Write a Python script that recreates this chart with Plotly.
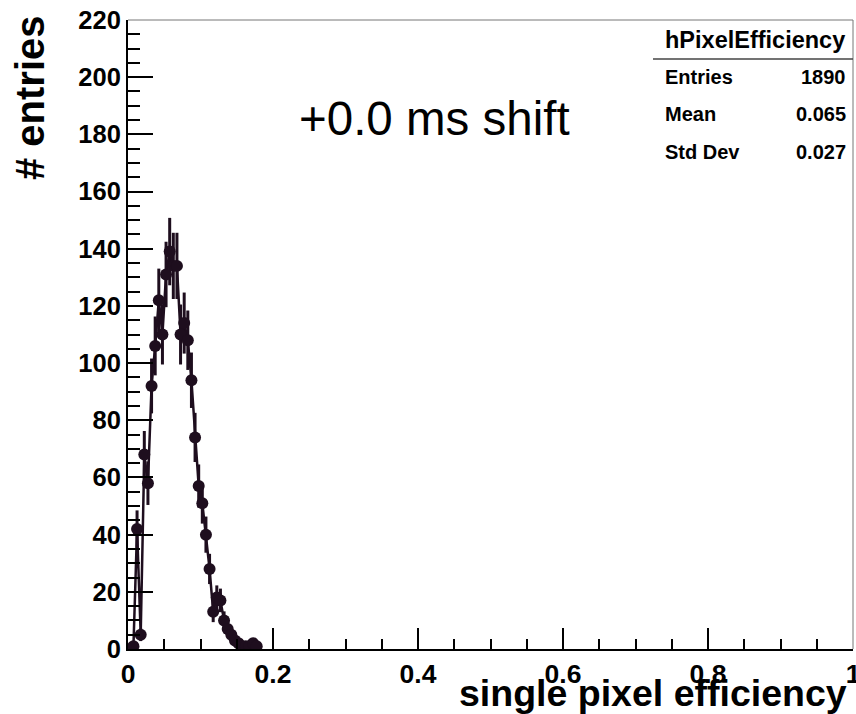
import numpy as np
import plotly.graph_objects as go

# ---- data ----
efficiency = [0.0075, 0.0125, 0.0175, 0.0225, 0.0275, 0.0325, 0.0375, 0.0425, 0.0475,
              0.0525, 0.0575, 0.0625, 0.0675, 0.0725, 0.0775, 0.0825, 0.0875, 0.0925,
              0.0975, 0.1025, 0.1075, 0.1125, 0.1175, 0.1225, 0.1275, 0.1325, 0.1375,
              0.1425, 0.1475, 0.1525, 0.1575, 0.1625, 0.1675, 0.1725, 0.1775]
entries = [1, 42, 5, 68, 58, 92, 106, 122, 110,
           131, 139, 134, 134, 110, 114, 108, 94, 74,
           57, 51, 40, 28, 13, 18, 17, 10, 7,
           5, 3, 2, 1, 1, 1, 2, 1]
half_bin = 0.0025
x_ticks = [0, 0.2, 0.4, 0.6, 0.8, 1]
x_tick_text = ["0", "0.2", "0.4", "0.6", "0.8", "1"]
y_ticks = list(range(0, 221, 20))

stats_title = "hPixelEfficiency"
stats_rows = [("Entries", "1890"), ("Mean", "0.065"), ("Std Dev", "0.027")]
label_text = "+0.0 ms shift"
x_title = "single pixel efficiency"
y_title = "# entries"

err = np.sqrt(np.array(entries, dtype=float))

W, H = 856, 714
L, R, T, B = 128, 853, 20, 649  # plot area in pixels
COL = "#1e0e1e"
FONT = "Liberation Sans"


def px(x):
    return (x - L) / (R - L)


def py(y):
    return (B - y) / (B - T)


fig = go.Figure()
fig.add_trace(go.Scatter(
    x=efficiency, y=entries,
    mode="lines+markers",
    line=dict(color=COL, width=2.5),
    marker=dict(color=COL, size=12, symbol="circle"),
    error_y=dict(type="data", array=err, visible=True, color=COL, thickness=3, width=0),
    error_x=dict(type="constant", value=half_bin, visible=True, color=COL, thickness=3, width=0),
    showlegend=False,
    cliponaxis=True,
))

fig.update_layout(
    width=W, height=H,
    margin=dict(l=L, r=W - R, t=T, b=H - B, pad=0, autoexpand=False),
    paper_bgcolor="white", plot_bgcolor="white",
    font=dict(family=FONT, color="black"),
    xaxis=dict(
        range=[0, 1], showgrid=False, zeroline=False, automargin=False,
        showline=True, linecolor="black", linewidth=2,
        ticks="inside", ticklen=21, tickwidth=1.5, tickcolor="black",
        tickvals=x_ticks, ticktext=x_tick_text,
        ticklabeloverflow="allow", ticklabelstandoff=0,
        tickfont=dict(family=FONT, size=26.5, weight="bold", color="black"),
        minor=dict(dtick=0.05, ticks="inside", ticklen=10, tickwidth=1.5, tickcolor="black"),
    ),
    yaxis=dict(
        range=[0, 220], showgrid=False, zeroline=False, automargin=False,
        showline=True, linecolor="black", linewidth=2,
        ticks="inside", ticklen=25, tickwidth=1.5, tickcolor="black",
        tickvals=y_ticks, ticklabeloverflow="allow",
        tickfont=dict(family=FONT, size=25.5, weight="bold", color="black"),
        minor=dict(dtick=5, ticks="inside", ticklen=12, tickwidth=1.5, tickcolor="black"),
    ),
)

shapes = []
# frame top and right
shapes.append(dict(type="line", xref="paper", yref="paper", x0=0, x1=1, y0=1, y1=1,
                   line=dict(color="#777777", width=1)))
shapes.append(dict(type="line", xref="paper", yref="paper", x0=1, x1=1, y0=0, y1=1,
                   line=dict(color="#777777", width=1)))
# stats box separator
shapes.append(dict(type="line", xref="paper", yref="paper", x0=px(653), x1=px(853),
                   y0=py(59), y1=py(59), line=dict(color="#444444", width=1.5)))
fig.update_layout(shapes=shapes)

ann = []
ann.append(dict(text=stats_title, xref="paper", yref="paper", x=px(755), y=py(40),
                xanchor="center", yanchor="middle", showarrow=False,
                font=dict(family=FONT, size=23.5, weight="bold", color="black")))
row_y = [77, 114, 152]
for (k, v), yy in zip(stats_rows, row_y):
    ann.append(dict(text=k, xref="paper", yref="paper", x=px(663), y=py(yy),
                    xanchor="left", yanchor="middle", showarrow=False,
                    font=dict(family=FONT, size=20, weight="bold", color="black")))
    ann.append(dict(text=v, xref="paper", yref="paper", x=px(848), y=py(yy),
                    xanchor="right", yanchor="middle", showarrow=False,
                    font=dict(family=FONT, size=20, weight="bold", color="black")))
ann.append(dict(text=label_text, xref="paper", yref="paper", x=px(434), y=py(118),
                xanchor="center", yanchor="middle", showarrow=False,
                font=dict(family=FONT, size=47.5, color="black")))
ann.append(dict(text=x_title, xref="paper", yref="paper", x=px(849), y=py(693),
                xanchor="right", yanchor="middle", showarrow=False,
                font=dict(family=FONT, size=37.5, weight="bold", color="black")))
ann.append(dict(text=y_title, xref="paper", yref="paper", x=px(30), y=py(98),
                xanchor="center", yanchor="middle", showarrow=False, textangle=-90,
                font=dict(family=FONT, size=40, weight="bold", color="black")))
fig.update_layout(annotations=ann)

fig.write_html("out.html")
